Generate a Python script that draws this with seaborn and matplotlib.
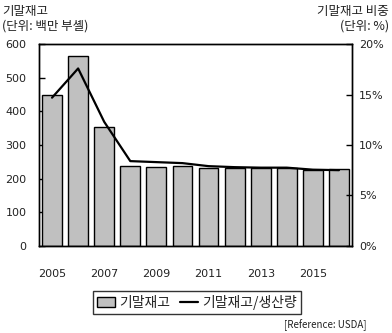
import matplotlib
matplotlib.use("Agg")
import matplotlib.pyplot as plt
import seaborn as sns
import pandas as pd
import numpy as np
from matplotlib.patches import Patch
from matplotlib.lines import Line2D

years = [str(y) for y in range(2005, 2017)]
stocks = [449, 565, 354, 238, 235, 238, 232, 232, 232, 232, 227, 228]
ratio = [14.7, 17.6, 12.3, 8.4, 8.3, 8.2, 7.9, 7.8, 7.75, 7.75, 7.55, 7.5]
left_ticks = [0, 100, 200, 300, 400, 500, 600]
right_ticks = [0, 5, 10, 15, 20]
right_labels = ["0%", "5%", "10%", "15%", "20%"]

sns.set_style("white")
plt.rcParams['font.family'] = ['Noto Sans CJK KR', 'DejaVu Sans']
KFS = 9
NUM = dict(family=['DejaVu Sans'], size=8, color="#222222")

df = pd.DataFrame({"year": years, "stocks": stocks, "ratio": ratio})

W, H = 392, 333
fig = plt.figure(figsize=(W / 100, H / 100), dpi=100)
ax = fig.add_axes([39 / W, 1 - 245.7 / H, (352 - 39) / W, (245.7 - 44.3) / H])

sns.barplot(data=df, x="year", y="stocks", ax=ax, color="#C0C0C0",
            edgecolor="black", linewidth=1.0, width=0.76, saturation=1)
ax.set_xlim(-0.5, len(years) - 0.5)
ax.set_ylim(0, 600)
ax.set_yticks(left_ticks)
ax.set_yticklabels([str(t) for t in left_ticks], **NUM)
ax.set_xlabel("")
ax.set_ylabel("")

pos = np.arange(len(years))
ax.set_xticks(pos[::2])
ax.set_xticklabels(years[::2], **NUM)
ax.set_xticks(pos[:-1] + 0.5, minor=True)
ax.tick_params(axis="x", which="major", length=0, pad=17)
ax.tick_params(axis="x", which="minor", length=3, direction="in", width=1, color="black")
ax.tick_params(axis="y", which="major", length=4, direction="in", width=1, color="black", pad=9)
for s in ax.spines.values():
    s.set_color("black")
    s.set_linewidth(1.0)

ax2 = ax.twinx()
sns.lineplot(x=pos, y=ratio, ax=ax2, color="black", linewidth=1.6)
ax2.set_ylim(0, 20)
ax2.set_xlim(-0.5, len(years) - 0.5)
ax2.set_yticks(right_ticks)
ax2.set_yticklabels(right_labels, **NUM)
ax2.tick_params(axis="y", which="major", length=4, direction="in", width=1, color="black", pad=5)
for s in ax2.spines.values():
    s.set_color("black")
    s.set_linewidth(1.0)

fig.text(2 / W, 1 - 11 / H, "기말재고", fontsize=KFS, ha="left", va="center", color="#222222")
fig.text(2 / W, 1 - 26 / H, "(단위: 백만 부셸)", fontsize=KFS, ha="left", va="center", color="#222222")
fig.text(389 / W, 1 - 11 / H, "기말재고 비중", fontsize=KFS, ha="right", va="center", color="#222222")
fig.text(389 / W, 1 - 26 / H, "(단위: %)", fontsize=KFS, ha="right", va="center", color="#222222")
fig.text(367 / W, 1 - 325 / H, "[Reference: USDA]", fontsize=7, ha="right", va="center", color="#222222")

handles = [Patch(facecolor="#C0C0C0", edgecolor="black", linewidth=1.0),
           Line2D([0], [0], color="black", linewidth=1.6)]
leg = fig.legend(handles, ["기말재고", "기말재고/생산량"], ncol=2, loc="center",
                 bbox_to_anchor=(197 / W, 1 - 302.5 / H), fontsize=10,
                 frameon=True, fancybox=False, edgecolor="black", handlelength=1.3,
                 handletextpad=0.3, columnspacing=0.7, borderpad=0.3)
leg.get_frame().set_linewidth(1.0)
for t in leg.get_texts():
    t.set_color("#222222")

fig.savefig("out.png", dpi=100)
